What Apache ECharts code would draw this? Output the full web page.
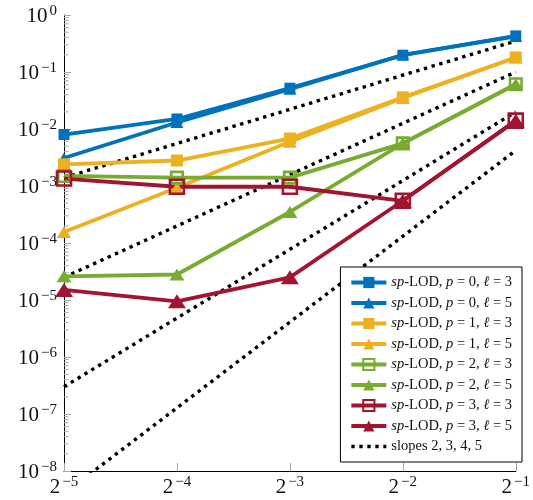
<!DOCTYPE html>
<html><head><meta charset="utf-8">
<script src="https://cdn.jsdelivr.net/npm/echarts@6/dist/echarts.min.js"></script>
<style>html,body{margin:0;padding:0;background:#fff}#c{width:533px;height:500px}</style>
</head><body><div id="c"></div>
<script>
// ---- data ----
const hValues = [1/32, 1/16, 1/8, 1/4, 1/2];
const p0l3 = [8.0e-3, 1.5e-2, 5.2e-2, 0.197, 0.43];
const p0l5 = [3.1e-3, 1.3e-2, 5.0e-2, 0.20, 0.42];
const p1l3 = [2.4e-3, 2.8e-3, 6.8e-3, 3.6e-2, 0.18];
const p1l5 = [1.56e-4, 9.3e-4, 6.0e-3, 3.5e-2, 0.18];
const p2l3 = [1.5e-3, 1.4e-3, 1.4e-3, 5.6e-3, 6.1e-2];
const p2l5 = [2.6e-5, 2.8e-5, 3.5e-4, 5.6e-3, 6.1e-2];
const p3l3 = [1.35e-3, 9.7e-4, 9.7e-4, 5.5e-4, 1.4e-2];
const p3l5 = [1.5e-5, 9.5e-6, 2.5e-5, 5.5e-4, 1.4e-2];
// reference slope lines: values at h = 2^-5 and h = 2^-1
const slopeH = [1/32, 1/2];
const slope2 = [1.4e-3, 0.35];
const slope3 = [2.5e-5, 0.1];
const slope4 = [3.0e-7, 0.02];
const slope5 = [4.0e-9, 4.2e-3];
// axis ticks
const xTickExps = [-5, -4, -3, -2, -1];
const yTickExps = [-8, -7, -6, -5, -4, -3, -2, -1, 0];
const minorMultipliers = [2, 3, 4, 5, 6, 7, 8, 9];

const C = {blue:'#0072BD', yellow:'#EDB120', green:'#77AC30', red:'#A2142F'};
const FONT = 'Liberation Serif';
const LW = 3.8;
const DOT = {color:'#000', width:3.4, type:[3.4,4.6], cap:'butt'};

function pairs(xs, ys){ return xs.map((x,i)=>[x, ys[i]]); }

function mkSeries(name, ys, color, symbol, size, open){
  return {
    name, type:'line', data: pairs(hValues, ys),
    symbol, symbolSize: size,
    lineStyle:{color, width:LW},
    itemStyle: open ? {color:'rgba(0,0,0,0)', borderColor:color, borderWidth:2.6}
                    : {color, borderColor:color, borderWidth:0},
    emphasis:{disabled:true}, animation:false, z:3
  };
}
function slopeSeries(ys){
  return {
    name:'slopes', type:'line', data: pairs(slopeH, ys), symbol:'none',
    lineStyle:DOT,
    itemStyle:{color:'#000'}, emphasis:{disabled:true}, animation:false, z:2, clip:true
  };
}

const minorData = [];
for (let e = yTickExps[0]; e < yTickExps[yTickExps.length-1]; e++) {
  minorMultipliers.forEach(m => minorData.push([hValues[0], m * Math.pow(10, e)]));
}

const names = ['sp-LOD, p = 0, ℓ = 3','sp-LOD, p = 0, ℓ = 5','sp-LOD, p = 1, ℓ = 3','sp-LOD, p = 1, ℓ = 5',
               'sp-LOD, p = 2, ℓ = 3','sp-LOD, p = 2, ℓ = 5','sp-LOD, p = 3, ℓ = 3','sp-LOD, p = 3, ℓ = 5'];

const series = [
  slopeSeries(slope2), slopeSeries(slope3), slopeSeries(slope4), slopeSeries(slope5),
  mkSeries(names[0], p0l3, C.blue, 'rect', 11, false),
  mkSeries(names[1], p0l5, C.blue, 'triangle', [13,11], false),
  mkSeries(names[2], p1l3, C.yellow, 'rect', 12, false),
  mkSeries(names[3], p1l5, C.yellow, 'triangle', [14,12], false),
  mkSeries(names[4], p2l3, C.green, 'rect', 11.5, true),
  mkSeries(names[5], p2l5, C.green, 'triangle', [15,12], false),
  mkSeries(names[6], p3l3, C.red, 'rect', 14, true),
  mkSeries(names[7], p3l5, C.red, 'triangle', [18,14], false),
  {
    type:'custom', silent:true, data: minorData, z:1,
    renderItem:(params, api) => {
      const p = api.coord([api.value(0), api.value(1)]);
      return {type:'line', shape:{x1:p[0], y1:p[1], x2:p[0]+4.5, y2:p[1]},
              style:{stroke:'#a8a8a8', lineWidth:1}};
    }
  }
];

const supRich = {
  b:{fontFamily:FONT, fontSize:21, color:'#111', verticalAlign:'bottom'},
  s:{fontFamily:FONT, fontSize:15, color:'#111', verticalAlign:'bottom', padding:[0,0,8,2]}
};
const minus = n => n < 0 ? '−' + (-n) : '' + n;

const legendData = names.map(n => ({name:n}));
legendData.push({name:'slopes', itemStyle:{color:'rgba(0,0,0,0)', borderWidth:0, opacity:0}, lineStyle:DOT});

const option = {
  backgroundColor:'#fff',
  animation:false,
  grid:{left:64, right:12, top:15, bottom:29},
  xAxis:{
    type:'log', logBase:2, min:hValues[0], max:hValues[hValues.length-1], interval:1,
    axisLine:{lineStyle:{color:'#000', width:1}},
    axisTick:{show:true, inside:true, length:8, lineStyle:{color:'#a8a8a8'}},
    splitLine:{show:false},
    axisLabel:{margin:4, formatter:v => '{b|2}{s|' + minus(Math.round(Math.log2(v))) + '}', rich:supRich}
  },
  yAxis:{
    type:'log', logBase:10, min:Math.pow(10, yTickExps[0]), max:Math.pow(10, yTickExps[yTickExps.length-1]), interval:1,
    axisLine:{show:true, lineStyle:{color:'#000', width:1}},
    axisTick:{show:true, inside:true, length:7, lineStyle:{color:'#a8a8a8'}},
    splitLine:{show:false},
    axisLabel:{margin:7, formatter:v => '{b|10}{s|' + minus(Math.round(Math.log10(v))) + '}', rich:supRich}
  },
  legend:{
    data: legendData,
    orient:'vertical', right:11, bottom:38,
    backgroundColor:'#fff', borderColor:'#000', borderWidth:1,
    padding:[8,10,8,9], itemWidth:35, itemHeight:14, itemGap:5.5,
    lineStyle:{width:LW},
    textStyle:{fontFamily:FONT, fontSize:14.5, color:'#111',
      rich:{i:{fontFamily:FONT, fontSize:14.5, fontStyle:'italic', color:'#111'}}},
    formatter: name => {
      if (name === 'slopes') return 'slopes 2, 3, 4, 5';
      const m = name.match(/p = (\d), ℓ = (\d)/);
      return '{i|sp}-LOD, {i|p} = ' + m[1] + ', {i|ℓ} = ' + m[2];
    }
  },
  series
};
const chart = echarts.init(document.getElementById('c'));
chart.setOption(option);
</script>
</body></html>
